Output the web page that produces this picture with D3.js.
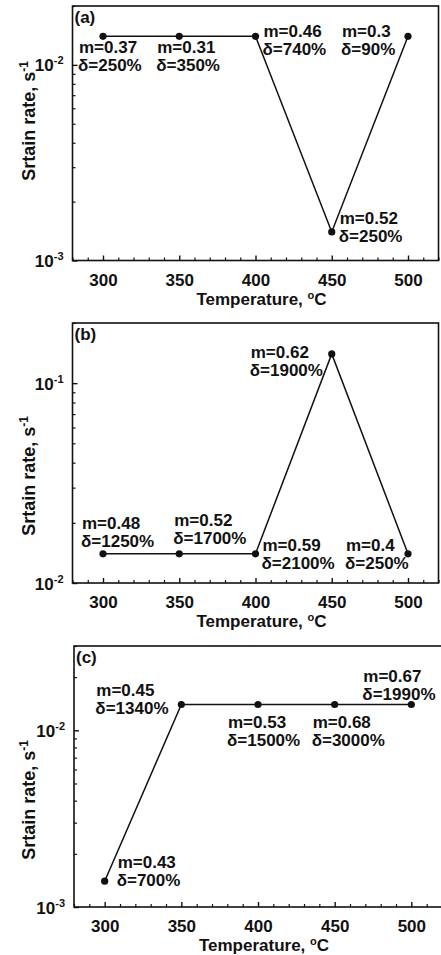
<!DOCTYPE html>
<html>
<head>
<meta charset="utf-8">
<script src="https://cdn.jsdelivr.net/npm/d3@7/dist/d3.min.js"></script>
<style>
  html, body { margin: 0; padding: 0; background: #fff; }
  svg { display: block; }
  text { font-family: "Liberation Sans", Arial, sans-serif; font-weight: bold; fill: #111; }
</style>
</head>
<body>
<svg id="chart" width="441" height="955"></svg>
<script>
// Forming temperatures (°C) shared by all three alloys
const temperatures = [300, 350, 400, 450, 500];
const temperatureTicks = [300, 350, 400, 450, 500];

// Optimum strain rate (s^-1) per temperature
const rateA = [1.4e-2, 1.4e-2, 1.4e-2, 1.4e-3, 1.4e-2];
const rateB = [1.4e-2, 1.4e-2, 1.4e-2, 1.4e-1, 1.4e-2];
const rateC = [1.4e-3, 1.4e-2, 1.4e-2, 1.4e-2, 1.4e-2];

// Strain-rate sensitivity m and elongation δ (%) at each point
const mA = ["0.37", "0.31", "0.46", "0.52", "0.3"];
const elongA = ["250", "350", "740", "250", "90"];
const mB = ["0.48", "0.52", "0.59", "0.62", "0.4"];
const elongB = ["1250", "1700", "2100", "1900", "250"];
const mC = ["0.43", "0.45", "0.53", "0.68", "0.67"];
const elongC = ["700", "1340", "1500", "3000", "1990"];

// Axis ranges and labels
const tempRange = [280, 520];
const rateRangeA = [1e-3, 2e-2];
const rateRangeB = [1e-2, 2e-1];
const rateRangeC = [1e-3, 3e-2];
const panelTags = ["(a)", "(b)", "(c)"];

// Frame boxes and annotation placement (pixel offsets from each marker)
const frames = [
  { left: 72.5, right: 438.5, top: 6, bottom: 260.5, titleY: 121 },
  { left: 72.5, right: 438.5, top: 323, bottom: 583, titleY: 476 },
  { left: 74, right: 442, top: 646, bottom: 907, titleY: 800 }
];
const offsetsA = [[-24, 17], [-22, 17], [8, 1], [8, -8], [-66, 1]];
const offsetsB = [[-21, -25], [-5, -28], [7, -3], [-81, 4], [-62, -3]];
const offsetsC = [[13, -13], [-85, -8], [-30, 24], [-22, 24], [-48, -22]];

const panels = [
  { rates: rateA, m: mA, elong: elongA, domain: rateRangeA, offsets: offsetsA },
  { rates: rateB, m: mB, elong: elongB, domain: rateRangeB, offsets: offsetsB },
  { rates: rateC, m: mC, elong: elongC, domain: rateRangeC, offsets: offsetsC }
];

const svg = d3.select("#chart");
svg.append("rect").attr("width", 441).attr("height", 955).attr("fill", "#fff");

panels.forEach((p, i) => {
  const f = frames[i];
  const x = d3.scaleLinear().domain(tempRange).range([f.left, f.right]);
  const y = d3.scaleLog().domain(p.domain).range([f.bottom, f.top]);
  const g = svg.append("g");

  // minor temperature ticks every 10 °C
  const minorT = d3.range(tempRange[0], tempRange[1] + 1, 10).filter(t => t % 50 !== 0);
  g.append("g")
    .attr("transform", `translate(0,${f.bottom})`)
    .call(d3.axisBottom(x).tickValues(minorT).tickSize(-3).tickFormat(""))
    .call(a => a.select(".domain").remove())
    .call(a => a.selectAll("line").attr("stroke", "#111").attr("stroke-width", 1.2));

  // major temperature ticks with labels
  g.append("g")
    .attr("transform", `translate(0,${f.bottom})`)
    .call(d3.axisBottom(x).tickValues(temperatureTicks).tickSize(-5).tickPadding(0).tickFormat(d3.format("d")))
    .call(a => a.select(".domain").remove())
    .call(a => a.selectAll("line").attr("stroke", "#111").attr("stroke-width", 1.4))
    .call(a => a.selectAll("text")
      .attr("y", 25).attr("dy", null)
      .attr("font-size", 17).attr("fill", "#111")
      .attr("font-family", "Liberation Sans, Arial, sans-serif").attr("font-weight", "bold"));

  // log rate axis: decades labelled, 2..9 minor ticks
  const lo = Math.round(Math.log10(p.domain[0]));
  const hi = Math.floor(Math.log10(p.domain[1]));
  const decades = d3.range(lo, hi + 1).map(e => Math.pow(10, e));
  const minorR = [];
  decades.forEach(d => { for (let k = 2; k <= 9; k++) { const v = d * k; if (v <= p.domain[1] * 1.0001) minorR.push(v); } });

  g.append("g")
    .attr("transform", `translate(${f.left},0)`)
    .call(d3.axisLeft(y).tickValues(minorR).tickSize(-3).tickFormat(""))
    .call(a => a.select(".domain").remove())
    .call(a => a.selectAll("line").attr("stroke", "#111").attr("stroke-width", 1.2));

  const yAx = g.append("g")
    .attr("transform", `translate(${f.left},0)`)
    .call(d3.axisLeft(y).tickValues(decades).tickSize(-5).tickFormat(""))
    .call(a => a.select(".domain").remove())
    .call(a => a.selectAll("line").attr("stroke", "#111").attr("stroke-width", 1.4));

  yAx.selectAll(".tick").append("text")
    .attr("x", -9).attr("y", 6)
    .attr("text-anchor", "end")
    .attr("font-size", 17)
    .each(function (d) {
      const t = d3.select(this);
      t.append("tspan").text("10");
      t.append("tspan").attr("font-size", 11).attr("dy", -7).text(String(Math.round(Math.log10(d))));
    });

  // frame
  g.append("rect")
    .attr("x", f.left).attr("y", f.top)
    .attr("width", f.right - f.left).attr("height", f.bottom - f.top)
    .attr("fill", "none").attr("stroke", "#111").attr("stroke-width", 1.6);

  // series line and markers
  const pts = temperatures.map((t, k) => ({ t, r: p.rates[k], k }));
  g.append("path")
    .datum(pts)
    .attr("d", d3.line().x(d => x(d.t)).y(d => y(d.r)))
    .attr("fill", "none").attr("stroke", "#111").attr("stroke-width", 1.5);

  g.selectAll("circle.pt").data(pts).join("circle")
    .attr("class", "pt")
    .attr("cx", d => x(d.t)).attr("cy", d => y(d.r)).attr("r", 3.6)
    .attr("fill", "#111");

  // m / δ annotations
  const ann = g.selectAll("text.ann").data(pts).join("text")
    .attr("class", "ann")
    .attr("font-size", 17)
    .attr("x", d => x(d.t) + p.offsets[d.k][0])
    .attr("y", d => y(d.r) + p.offsets[d.k][1]);
  ann.append("tspan").text(d => "m=" + p.m[d.k]);
  ann.append("tspan")
    .attr("x", d => x(d.t) + p.offsets[d.k][0] - 1)
    .attr("dy", 18)
    .text(d => "δ=" + p.elong[d.k] + "%");

  // panel tag
  g.append("text").attr("x", f.left + 2).attr("y", f.top + 17).attr("font-size", 17).text(panelTags[i]);

  // axis titles
  const xt = g.append("text")
    .attr("x", (x(400) + 6)).attr("y", f.bottom + 44)
    .attr("text-anchor", "middle").attr("font-size", 17);
  xt.append("tspan").text("Temperature, ");
  xt.append("tspan").attr("font-size", 11).attr("dy", -6).text("o");
  xt.append("tspan").attr("dy", 6).text("C");

  const yt = g.append("text")
    .attr("transform", `translate(35,${f.titleY}) rotate(-90)`)
    .attr("text-anchor", "middle").attr("font-size", 18);
  yt.append("tspan").text("Srtain rate, s");
  yt.append("tspan").attr("font-size", 12).attr("dy", -7).text("-1");
});
</script>
</body>
</html>
